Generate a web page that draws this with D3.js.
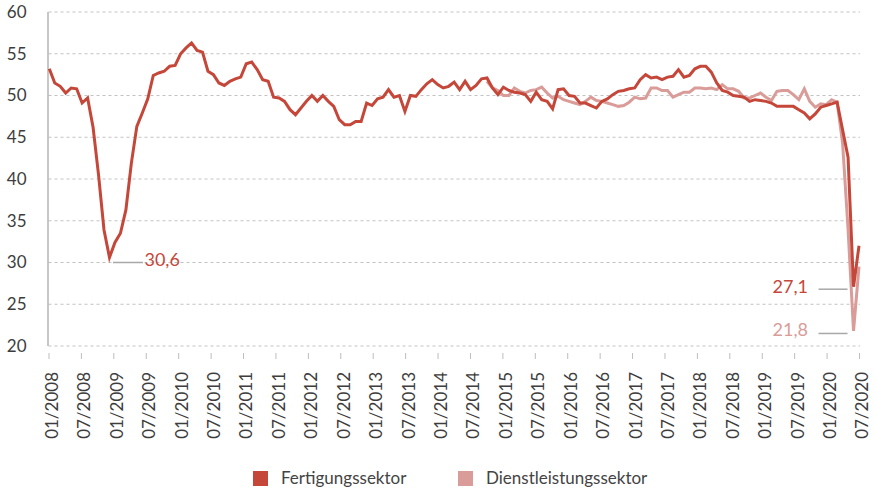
<!DOCTYPE html>
<html>
<head>
<meta charset="utf-8">
<script src="https://cdn.jsdelivr.net/npm/d3@7"></script>
<style>
  body { margin: 0; background: #fff; }
  text { font-family: Lato, "Open Sans", sans-serif; fill: #3d3d3d; }
</style>
</head>
<body>
<div id="chart"></div>
<script>
// Monthly values, 01/2008 .. 05/2020
const fertigung = [
  53.2, 51.5, 51.1, 50.3, 50.9, 50.8, 49.1, 49.7, 46.2, 40.5, 33.9, 30.6,
  32.4, 33.5, 36.3, 41.9, 46.3, 47.9, 49.6, 52.4, 52.7, 52.9, 53.5, 53.6,
  55.0, 55.7, 56.3, 55.4, 55.2, 52.9, 52.5, 51.5, 51.2, 51.7, 52.0, 52.2,
  53.8, 54.0, 53.1, 51.9, 51.7, 49.8, 49.7, 49.3, 48.3, 47.7, 48.5, 49.3,
  50.0, 49.3, 50.0, 49.3, 48.7, 47.1, 46.5, 46.5, 46.9, 46.9, 49.1, 48.8,
  49.6, 49.8, 50.7, 49.8, 50.0, 48.1, 50.0, 49.9, 50.7, 51.4, 51.9, 51.3,
  50.9, 51.1, 51.6, 50.7, 51.7, 50.7, 51.2, 52.0, 52.1, 50.9, 50.1, 51.0,
  50.6, 50.4, 50.3, 50.1, 49.3, 50.4, 49.5, 49.3, 48.4, 50.7, 50.8, 50.0,
  49.9, 49.1, 49.1, 48.8, 48.5, 49.3, 49.6, 50.1, 50.5, 50.6, 50.8, 50.9,
  51.9, 52.5, 52.1, 52.2, 51.9, 52.2, 52.3, 53.1, 52.2, 52.4, 53.2, 53.5,
  53.5, 52.8, 51.5, 50.6, 50.4, 50.0, 49.9, 49.8, 49.3, 49.5, 49.4, 49.3,
  49.1, 48.7, 48.7, 48.7, 48.7, 48.3, 47.9, 47.2, 47.8, 48.6, 48.8, 49.0,
  49.2, 45.9, 42.6, 27.1, 32.0
];

// Services series starts 09/2014 (month index 80)
const dienstStart = 80;
const dienstleistung = [
  51.7, 50.9, 50.6, 50.0, 50.0, 50.9, 50.5, 50.3, 50.6, 50.7, 51.0, 50.3,
  49.7, 49.9, 49.5, 49.3, 49.1, 48.9, 49.3, 49.8, 49.4, 49.3, 49.1, 48.9,
  48.7, 48.8, 49.2, 49.8, 49.6, 49.7, 50.9, 50.9, 50.6, 50.6, 49.8, 50.1,
  50.4, 50.4, 50.9, 50.9, 50.8, 50.9, 50.7, 51.3, 50.8, 50.8, 50.5, 49.7,
  49.7, 50.0, 50.3, 49.8, 49.4, 50.5, 50.6, 50.6, 50.1, 49.5, 50.8, 49.3,
  48.6, 49.0, 48.9, 49.5, 49.2, 44.3, 34.0, 21.8, 29.5
];

const tickLabels = [
  "01/2008", "07/2008", "01/2009", "07/2009", "01/2010", "07/2010",
  "01/2011", "07/2011", "01/2012", "07/2012", "01/2013", "07/2013",
  "01/2014", "07/2014", "01/2015", "07/2015", "01/2016", "07/2016",
  "01/2017", "07/2017", "01/2018", "07/2018", "01/2019", "07/2019",
  "01/2020", "07/2020"
];
const yTicks = [20, 25, 30, 35, 40, 45, 50, 55, 60];
const seriesNames = ["Fertigungssektor", "Dienstleistungssektor"];
const colors = ["#c4473a", "#d99c98"];

const W = 876, H = 488;
const plotLeft = 48.5, plotRight = 859, plotTop = 12, plotBottom = 346;

const svg = d3.select("#chart").append("svg")
    .attr("width", W)
    .attr("height", H);

const x = d3.scaleLinear()
    .domain([0, fertigung.length - 1])
    .range([plotLeft + 0.8, plotRight]);

const xLab = d3.scalePoint()
    .domain(tickLabels)
    .range([plotLeft, plotRight]);

const y = d3.scaleLinear()
    .domain([20, 60])
    .range([plotBottom, plotTop]);

// grid lines
svg.append("g")
    .selectAll("line")
    .data(yTicks)
    .enter()
    .append("line")
    .attr("x1", plotLeft)
    .attr("x2", plotRight + 1)
    .attr("y1", d => y(d))
    .attr("y2", d => y(d))
    .attr("stroke", "#c2c2c2")
    .attr("stroke-width", 1)
    .attr("stroke-dasharray", "3,3");

// y axis labels
const yAxis = svg.append("g")
    .attr("transform", `translate(${plotLeft},0)`)
    .call(d3.axisLeft(y).tickValues(yTicks).tickSize(0).tickPadding(22));
yAxis.select(".domain").remove();
yAxis.selectAll("text")
    .attr("font-size", 17)
    .style("fill", "#3d3d3d");

// y axis line
svg.append("line")
    .attr("x1", plotLeft - 0.5)
    .attr("x2", plotLeft - 0.5)
    .attr("y1", plotTop)
    .attr("y2", plotBottom)
    .attr("stroke", "#b5b5b5")
    .attr("stroke-width", 1.5);

// x axis
const xAxis = svg.append("g")
    .attr("transform", `translate(0,353)`)
    .call(d3.axisBottom(xLab).tickSize(6));
xAxis.select(".domain").remove();
xAxis.selectAll("line").attr("stroke", "#bdbdbd");
xAxis.selectAll("text")
    .attr("transform", "rotate(-90)")
    .attr("x", -19)
    .attr("y", 3)
    .attr("dy", "0.35em")
    .attr("font-size", 17)
    .style("text-anchor", "end")
    .style("fill", "#3d3d3d");

// lines
const line = d3.line()
    .x(d => x(d[0]))
    .y(d => y(d[1]));

svg.append("path")
    .datum(dienstleistung.map((v, i) => [i + dienstStart, v]))
    .attr("fill", "none")
    .attr("stroke", colors[1])
    .attr("stroke-width", 3)
    .attr("d", line);

svg.append("path")
    .datum(fertigung.map((v, i) => [i, v]))
    .attr("fill", "none")
    .attr("stroke", colors[0])
    .attr("stroke-width", 3)
    .attr("d", line);

// annotations
const notes = [
  { idx: 11, v: 30.6, s: 0, label: "30,6", side: "right", dyLine: 5, dyText: 2 },
  { idx: 147, v: fertigung[147], s: 0, label: "27,1", side: "left", dyLine: 2.5, dyText: 0 },
  { idx: 147, v: dienstleistung[147 - dienstStart], s: 1, label: "21,8", side: "left", dyLine: 2.5, dyText: -1.5 }
];

notes.forEach(n => {
  const px = x(n.idx), py = y(n.v);
  const x1 = n.side === "right" ? px + 3.5 : px - 35;
  const x2 = n.side === "right" ? px + 33.5 : px - 6;
  svg.append("line")
    .attr("x1", x1).attr("x2", x2)
    .attr("y1", py + n.dyLine).attr("y2", py + n.dyLine)
    .attr("stroke", "#a8a8a8")
    .attr("stroke-width", 1.5);
  svg.append("text")
    .attr("x", n.side === "right" ? px + 35 : px - 45.5)
    .attr("y", py + n.dyText)
    .attr("dy", "0.35em")
    .attr("font-size", 18)
    .attr("text-anchor", n.side === "right" ? "start" : "end")
    .style("fill", colors[n.s])
    .text(n.label);
});

// legend
const legendX = [253, 458];
const legend = svg.append("g")
    .selectAll("g")
    .data(seriesNames)
    .enter()
    .append("g")
    .attr("transform", (d, i) => `translate(${legendX[i]},471)`);

legend.append("rect")
    .attr("width", 15)
    .attr("height", 15)
    .attr("fill", (d, i) => colors[i]);

legend.append("text")
    .attr("x", 28)
    .attr("y", 12.5)
    .attr("font-size", 17)
    .style("fill", "#444")
    .text(d => d);
</script>
</body>
</html>
